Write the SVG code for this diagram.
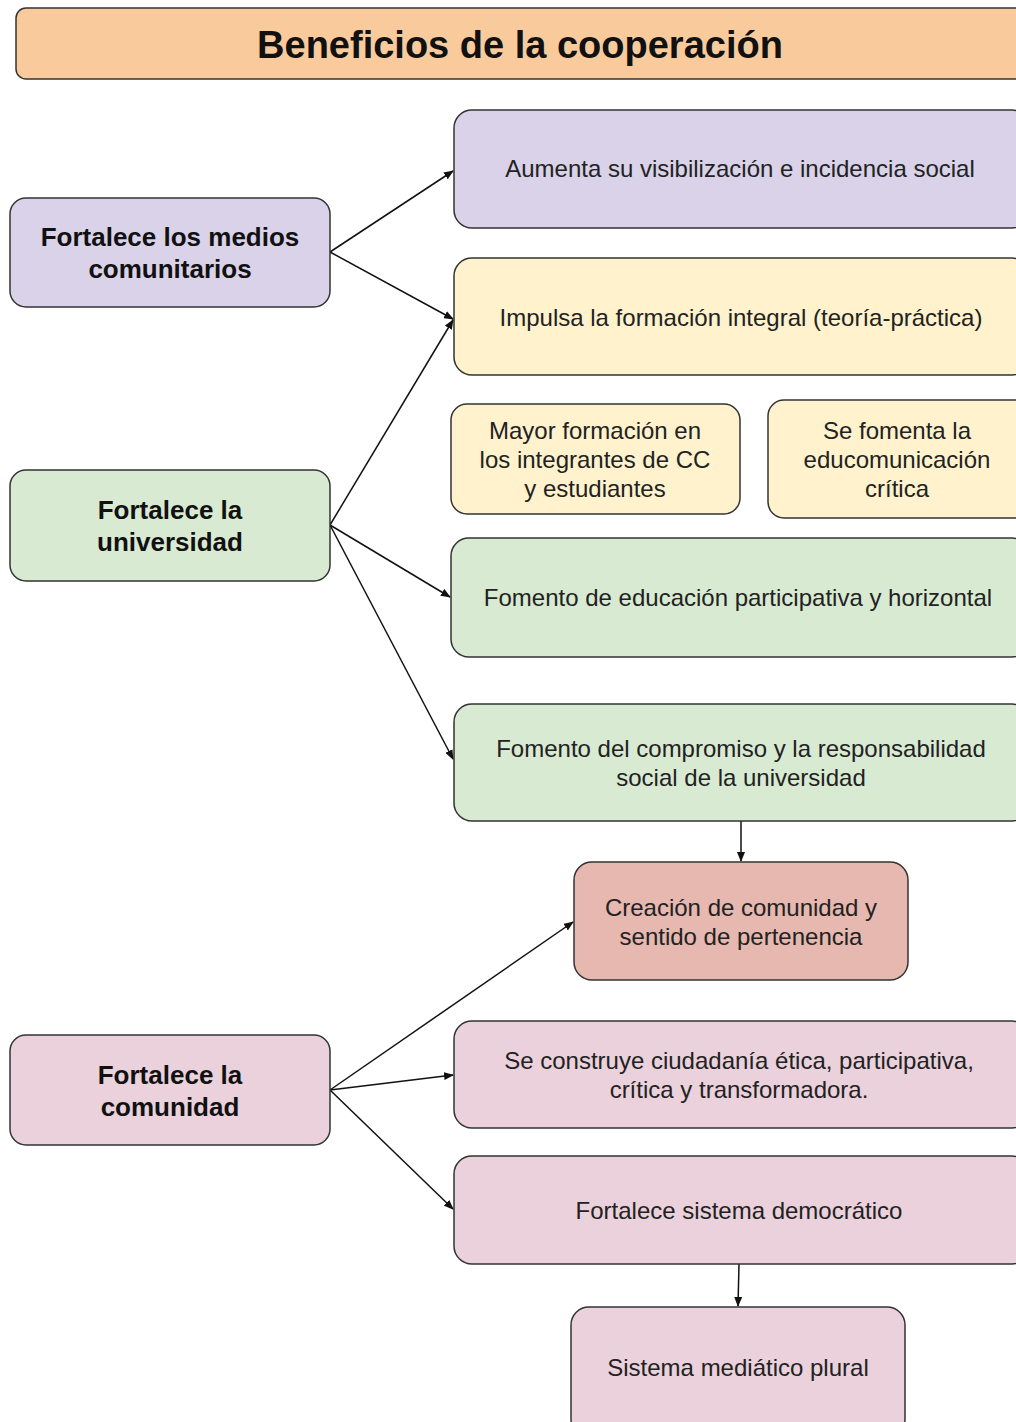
<svg xmlns="http://www.w3.org/2000/svg" width="1016" height="1422" viewBox="0 0 1016 1422">
<defs>
<marker id="ah" markerWidth="10" markerHeight="8" refX="9" refY="4" orient="auto" markerUnits="userSpaceOnUse">
<path d="M0,0 L10,4 L0,8 z" fill="#111"/>
</marker>
<style>
.box{stroke:#333;stroke-width:1.5}
.t{font-family:"Liberation Sans",Arial,sans-serif;font-size:24px;fill:#222;text-anchor:middle}
.b{font-family:"Liberation Sans",Arial,sans-serif;font-size:26px;font-weight:bold;fill:#111;text-anchor:middle}
.title{font-family:"Liberation Sans",Arial,sans-serif;font-size:38px;font-weight:bold;fill:#111;text-anchor:middle}
.c{stroke:#111;stroke-width:1.5;fill:none;marker-end:url(#ah)}
.purple{fill:#d9d2e9}.yellow{fill:#fff2cc}.green{fill:#d9ead3}.pink{fill:#ead1dc}.red{fill:#e6b8af}.orange{fill:#f9cb9c}
</style>
</defs>
<rect width="1016" height="1422" fill="#fff"/>
<g id="title">
<rect class="box orange" x="16" y="8" width="1014" height="71" rx="10"/>
<text class="title" x="520" y="58">Beneficios de la cooperación</text>
</g>
<g id="connectors">
<line class="c" x1="330" y1="252" x2="453" y2="171"/>
<line class="c" x1="330" y1="252" x2="453" y2="319"/>
<line class="c" x1="330" y1="525" x2="453" y2="320"/>
<line class="c" x1="330" y1="525" x2="450" y2="597"/>
<line class="c" x1="330" y1="525" x2="453" y2="759"/>
<line class="c" x1="741" y1="821" x2="741" y2="861"/>
<line class="c" x1="330" y1="1090" x2="573" y2="922"/>
<line class="c" x1="330" y1="1090" x2="453" y2="1075"/>
<line class="c" x1="330" y1="1090" x2="453" y2="1209"/>
<line class="c" x1="739" y1="1264" x2="738" y2="1306"/>
</g>
<g id="n-medios">
<rect class="box purple" x="10" y="198" width="320" height="109" rx="16"/>
<text class="b" x="170" y="246">Fortalece los medios</text>
<text class="b" x="170" y="278">comunitarios</text>
</g>
<g id="n-universidad">
<rect class="box green" x="10" y="470" width="320" height="111" rx="16"/>
<text class="b" x="170" y="519">Fortalece la</text>
<text class="b" x="170" y="551">universidad</text>
</g>
<g id="n-comunidad">
<rect class="box pink" x="10" y="1035" width="320" height="110" rx="16"/>
<text class="b" x="170" y="1084">Fortalece la</text>
<text class="b" x="170" y="1116">comunidad</text>
</g>
<g id="n-aumenta">
<rect class="box purple" x="454" y="110" width="576" height="118" rx="18"/>
<text class="t" x="740" y="177">Aumenta su visibilización e incidencia social</text>
</g>
<g id="n-impulsa">
<rect class="box yellow" x="454" y="258" width="576" height="117" rx="18"/>
<text class="t" x="741" y="326">Impulsa la formación integral (teoría-práctica)</text>
</g>
<g id="n-mayor">
<rect class="box yellow" x="451" y="404" width="289" height="110" rx="16"/>
<text class="t" x="595" y="439">Mayor formación en</text>
<text class="t" x="595" y="468">los integrantes de CC</text>
<text class="t" x="595" y="497">y estudiantes</text>
</g>
<g id="n-fomenta">
<rect class="box yellow" x="768" y="400" width="262" height="118" rx="16"/>
<text class="t" x="897" y="439">Se fomenta la</text>
<text class="t" x="897" y="468">educomunicación</text>
<text class="t" x="897" y="497">crítica</text>
</g>
<g id="n-educacion">
<rect class="box green" x="451" y="538" width="579" height="119" rx="18"/>
<text class="t" x="738" y="606">Fomento de educación participativa y horizontal</text>
</g>
<g id="n-compromiso">
<rect class="box green" x="454" y="704" width="576" height="117" rx="18"/>
<text class="t" x="741" y="757">Fomento del compromiso y la responsabilidad</text>
<text class="t" x="741" y="786">social de la universidad</text>
</g>
<g id="n-creacion">
<rect class="box red" x="574" y="862" width="334" height="118" rx="18"/>
<text class="t" x="741" y="916">Creación de comunidad y</text>
<text class="t" x="741" y="945">sentido de pertenencia</text>
</g>
<g id="n-ciudadania">
<rect class="box pink" x="454" y="1021" width="576" height="107" rx="18"/>
<text class="t" x="739" y="1069">Se construye ciudadanía ética, participativa,</text>
<text class="t" x="739" y="1098">crítica y transformadora.</text>
</g>
<g id="n-democratico">
<rect class="box pink" x="454" y="1156" width="576" height="108" rx="18"/>
<text class="t" x="739" y="1219">Fortalece sistema democrático</text>
</g>
<g id="n-mediatico">
<rect class="box pink" x="571" y="1307" width="334" height="130" rx="18"/>
<text class="t" x="738" y="1376">Sistema mediático plural</text>
</g>
</svg>
